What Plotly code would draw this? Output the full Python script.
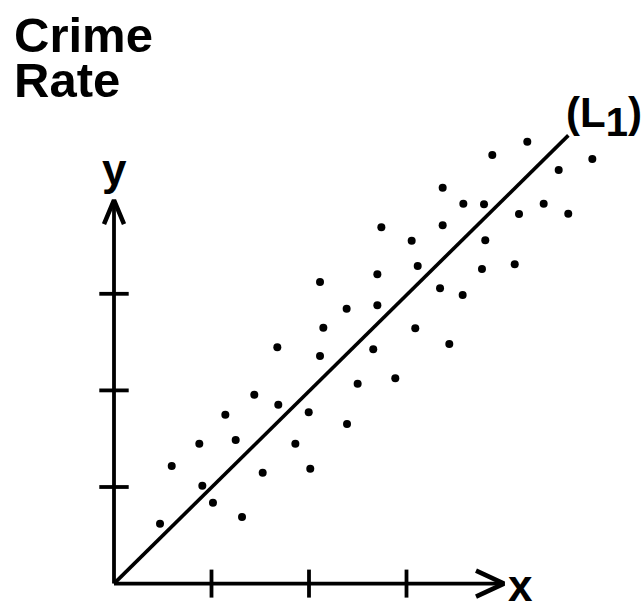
import plotly.graph_objects as go

# ---- data (axis units = tick spacing) ----
POINT_X = [0.472, 0.592, 0.875, 0.906, 1.015, 1.142, 1.248, 1.313, 1.439, 1.525,
           1.675, 1.685, 1.860, 1.997, 2.013, 2.113, 2.113, 2.147, 2.386, 2.390,
           2.499, 2.659, 2.701, 2.701, 2.742, 2.885, 3.053, 3.090, 3.115, 3.344,
           3.371, 3.371, 3.439, 3.576, 3.583, 3.774, 3.795, 3.808, 3.880, 4.110,
           4.154, 4.239, 4.407, 4.561, 4.659, 4.906]
POINT_Y = [0.620, 1.217, 1.448, 1.013, 0.837, 1.749, 1.487, 0.689, 1.956, 1.148,
           2.446, 1.852, 1.448, 1.773, 1.190, 3.122, 2.356, 2.649, 2.846, 1.652,
           2.069, 2.425, 3.202, 2.881, 3.688, 2.125, 3.550, 2.643, 3.288, 3.057,
           4.098, 3.709, 2.480, 2.988, 3.933, 3.257, 3.926, 3.554, 4.437, 3.305,
           3.826, 4.575, 3.933, 4.282, 3.829, 4.395]
LINE_X = [0.0, 4.66]
LINE_Y = [0.0, 4.64]
X_TICKS = [1, 2, 3]
Y_TICKS = [1, 2, 3]
X_AXIS_END = 4.0
Y_AXIS_END = 3.97

W, H = 644, 601
ORIGIN_PX = (114.0, 583.6)
UNIT_X, UNIT_Y = 97.5, 96.6

x_range = [-ORIGIN_PX[0] / UNIT_X, (W - ORIGIN_PX[0]) / UNIT_X]
y_range = [-(H - ORIGIN_PX[1]) / UNIT_Y, ORIGIN_PX[1] / UNIT_Y]

FONT = "Liberation Sans, Arial, Helvetica, sans-serif"
INK = "black"
AXIS_W = 3.8

fig = go.Figure()

# axes (drawn as lines in data space) with open chevron arrowheads
fig.add_trace(go.Scatter(x=[0, X_AXIS_END], y=[0, 0], mode="lines",
                         line=dict(color=INK, width=AXIS_W), hoverinfo="skip"))
fig.add_trace(go.Scatter(x=[0, 0], y=[0, Y_AXIS_END], mode="lines",
                         line=dict(color=INK, width=AXIS_W), hoverinfo="skip"))

# arrowhead arm sizes in pixels -> data units
xa_dx, xa_dy = 28 / UNIT_X, 13 / UNIT_Y
ya_dx, ya_dy = 10 / UNIT_X, 24 / UNIT_Y
fig.add_trace(go.Scatter(x=[X_AXIS_END - xa_dx, X_AXIS_END, X_AXIS_END - xa_dx],
                         y=[xa_dy, 0, -xa_dy], mode="lines",
                         line=dict(color=INK, width=4.5), hoverinfo="skip"))
fig.add_trace(go.Scatter(x=[-ya_dx, 0, ya_dx],
                         y=[Y_AXIS_END - ya_dy, Y_AXIS_END, Y_AXIS_END - ya_dy],
                         mode="lines", line=dict(color=INK, width=4.5),
                         hoverinfo="skip"))

# regression line L1
fig.add_trace(go.Scatter(x=LINE_X, y=LINE_Y, mode="lines",
                         line=dict(color=INK, width=3.6), hoverinfo="skip"))
# data points
fig.add_trace(go.Scatter(x=POINT_X, y=POINT_Y, mode="markers",
                         marker=dict(color=INK, size=8), hoverinfo="skip"))
# tick marks crossing the axes
fig.add_trace(go.Scatter(x=X_TICKS, y=[0] * len(X_TICKS), mode="markers",
                         marker=dict(symbol="line-ns", size=20,
                                     line=dict(color=INK, width=3.8)),
                         hoverinfo="skip"))
fig.add_trace(go.Scatter(x=[0] * len(Y_TICKS), y=Y_TICKS, mode="markers",
                         marker=dict(symbol="line-ew", size=21,
                                     line=dict(color=INK, width=3.8)),
                         hoverinfo="skip"))


def label(text, px, py, size, xanchor="center"):
    return dict(text=text, x=px / W, y=1 - py / H, xref="paper", yref="paper",
                xanchor=xanchor, yanchor="middle", showarrow=False, borderpad=0,
                font=dict(family=FONT, size=size, color=INK, weight="bold"))


annotations = [
    label("Crime", 13, 34.7, 49, xanchor="left"),
    label("Rate", 13, 79.7, 49, xanchor="left"),
    label("y", 114.5, 170, 44),
    label("x", 520, 585, 44),
    label("(L<sub><span style='font-size:40px'>1</span></sub>)", 643, 116, 42,
          xanchor="right"),
]

fig.update_layout(
    width=W, height=H, autosize=False,
    margin=dict(l=0, r=0, t=0, b=0, pad=0),
    paper_bgcolor="white", plot_bgcolor="white",
    showlegend=False,
    xaxis=dict(range=x_range, visible=False, fixedrange=True),
    yaxis=dict(range=y_range, visible=False, fixedrange=True),
    annotations=annotations,
)

fig.write_html("out.html", config={"displayModeBar": False},
               post_script="document.body.style.margin='0';")
